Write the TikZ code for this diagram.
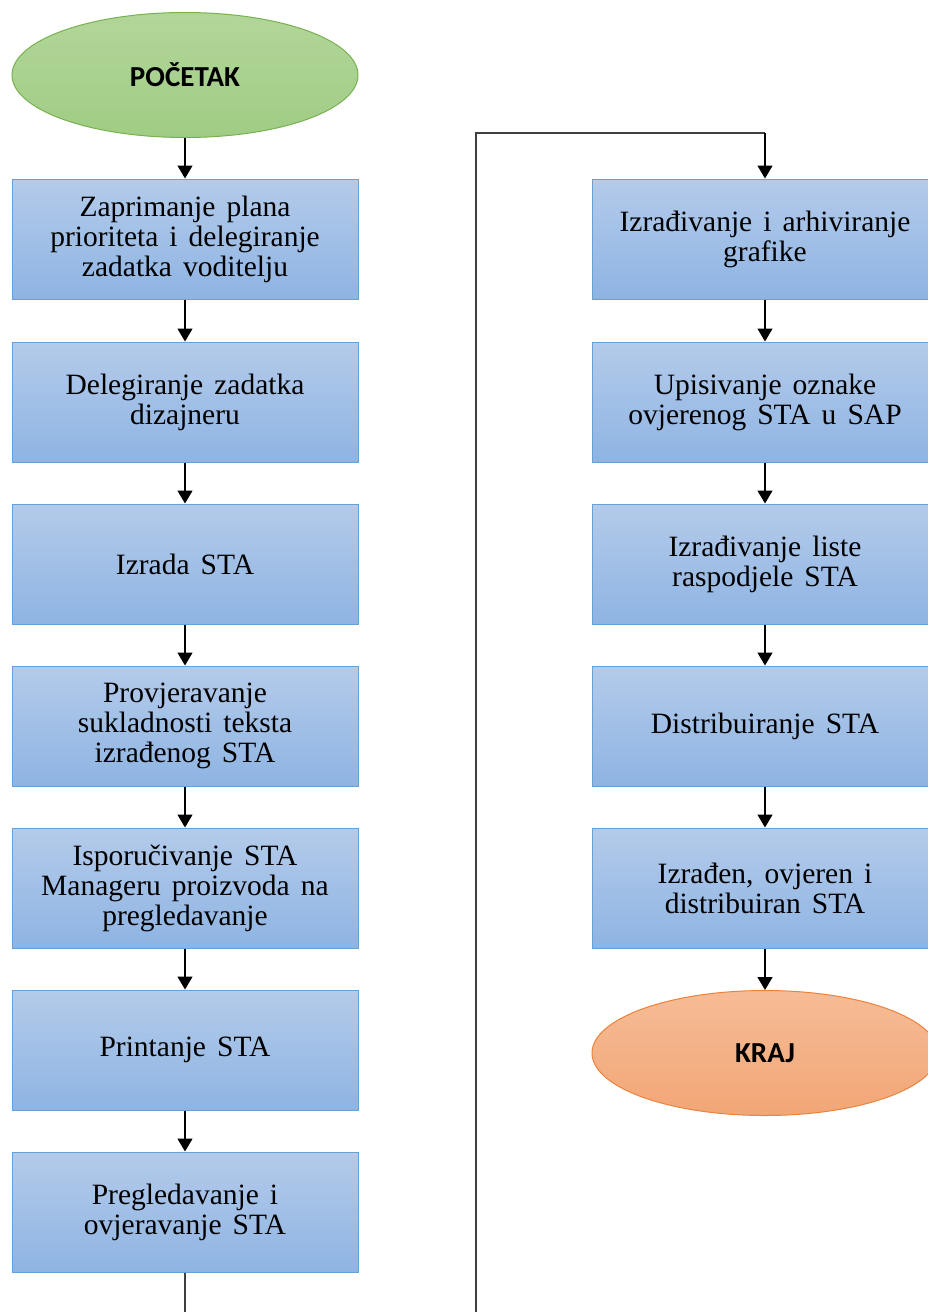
\documentclass[tikz,border=0pt]{standalone}
\usepackage{fontspec}
\setmainfont{Liberation Serif}[WordSpace=1.5]
\newfontfamily\ovalfont{Carlito}
\usetikzlibrary{arrows.meta,shapes.geometric}

\definecolor{boxtop}{RGB}{180,203,234}
\definecolor{boxbot}{RGB}{142,180,227}
\definecolor{boxline}{RGB}{101,160,215}
\definecolor{starttop}{RGB}{178,214,154}
\definecolor{startbot}{RGB}{160,204,132}
\definecolor{startline}{RGB}{120,178,80}
\definecolor{endtop}{RGB}{246,188,150}
\definecolor{endbot}{RGB}{242,166,118}
\definecolor{endline}{RGB}{236,130,60}

\tikzset{
  korak/.style={rectangle,draw=boxline,line width=1pt,top color=boxtop,bottom color=boxbot,
    minimum width=346pt,minimum height=120pt,inner sep=0pt,align=center,
    font=\fontsize{29.5}{30}\selectfont},
  oval/.style={ellipse,line width=1pt,minimum width=346pt,minimum height=125pt,inner sep=0pt,
    font=\ovalfont\bfseries\fontsize{29}{30}\selectfont},
  strelica/.style={line width=1.4pt,-{Triangle[width=15pt,length=13pt]}},
  petlja/.style={line width=1.6pt,draw=black!75}
}

\begin{document}
\begin{tikzpicture}[x=1pt,y=-1pt]
  \clip (0,0) rectangle (928,1312);
  \fill[white] (0,0) rectangle (928,1312);

  % Pocetak i lijevi stupac
  \node[oval,draw=startline,top color=starttop,bottom color=startbot] (pocetak) at (185,75) {POČETAK};
  \node[korak] (l1) at (185,239) {Zaprimanje plana\\prioriteta i delegiranje\\zadatka voditelju};
  \node[korak] (l2) at (185,402) {Delegiranje zadatka\\dizajneru};
  \node[korak] (l3) at (185,564) {Izrada STA};
  \node[korak] (l4) at (185,726) {Provjeravanje\\sukladnosti teksta\\izrađenog STA};
  \node[korak] (l5) at (185,888) {Isporučivanje STA\\Manageru proizvoda na\\pregledavanje};
  \node[korak] (l6) at (185,1050) {Printanje STA};
  \node[korak] (l7) at (185,1212) {Pregledavanje i\\ovjeravanje STA};

  % Desni stupac i kraj
  \node[korak] (r1) at (765,239) {Izrađivanje i arhiviranje\\grafike};
  \node[korak] (r2) at (765,402) {Upisivanje oznake\\ovjerenog STA u SAP};
  \node[korak] (r3) at (765,564) {Izrađivanje liste\\raspodjele STA};
  \node[korak] (r4) at (765,726) {Distribuiranje STA};
  \node[korak] (r5) at (765,888) {Izrađen, ovjeren i\\distribuiran STA};
  \node[oval,draw=endline,top color=endtop,bottom color=endbot] (kraj) at (765,1053) {KRAJ};

  % Strelice
  \foreach \from/\to in {pocetak/l1, l1/l2, l2/l3, l3/l4, l4/l5, l5/l6, l6/l7,
                         r1/r2, r2/r3, r3/r4, r4/r5, r5/kraj}
    \draw[strelica] (\from) -- (\to);

  % Prijelaz u desni stupac
  \coordinate (d1) at (185,1340);
  \coordinate (d2) at (476,133);
  \draw[petlja] (l7) -- (d1) -| (d2) -- (d2 -| r1);
  \draw[strelica] (d2 -| r1) -- (r1);
\end{tikzpicture}
\end{document}
